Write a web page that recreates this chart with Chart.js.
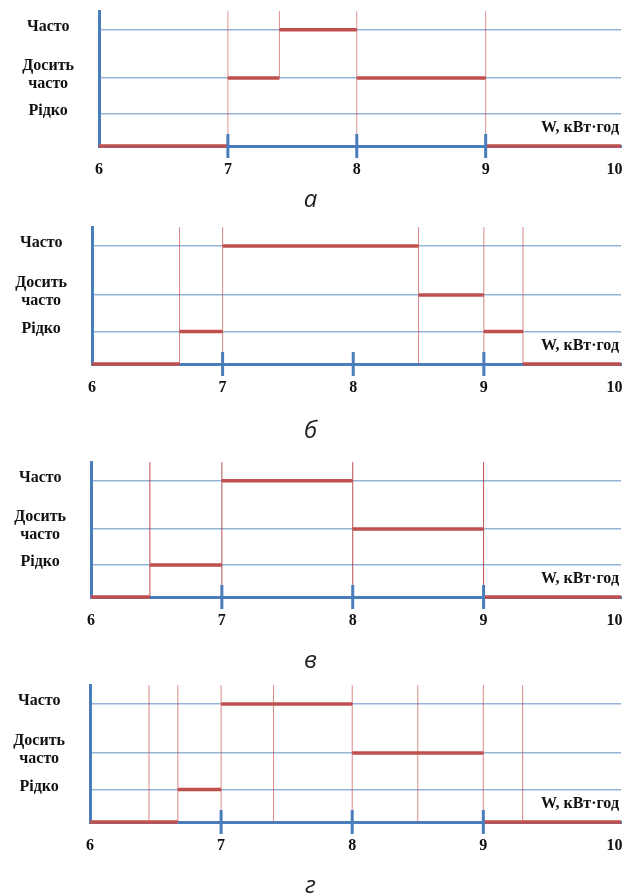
<!DOCTYPE html>
<html>
<head>
<meta charset="utf-8">
<script src="https://cdn.jsdelivr.net/npm/chart.js"></script>
<style>
    html, body { margin: 0; padding: 0; background: #fff; overflow: hidden; }
    body { width: 625px; height: 896px; position: relative; }
    canvas { position: absolute; left: 0; }
</style>
</head>
<body>
<canvas id="chart-a" width="625" height="215" style="top:2px"></canvas>
<canvas id="chart-b" width="625" height="230" style="top:218px"></canvas>
<canvas id="chart-c" width="625" height="225" style="top:453px"></canvas>
<canvas id="chart-d" width="625" height="227" style="top:676px"></canvas>
<script>
// axis values
const xTicks = [6, 7, 8, 9, 10];
const levelNames = ['Рідко', 'Досить часто', 'Часто'];
const levelValues = [1, 2.12, 3.62];
const unitLabel = 'W, кВт·год';
const tickMarks = [7, 8, 9];

// а
const edgesA = [6, 7, 7.4, 8, 9, 10];
const stepsA = [null, 'Досить часто', 'Часто', 'Досить часто', null];
const linesA = [7, 7.4, 8, 9];
const lineFromA = [null, 'Досить часто', null, null];

// б
const edgesB = [6, 6.67, 7, 8.5, 9, 9.3, 10];
const stepsB = [null, 'Рідко', 'Часто', 'Досить часто', 'Рідко', null];
const linesB = [6.67, 7, 8.5, 9, 9.3];

// в
const edgesC = [6, 6.45, 7, 8, 9, 10];
const stepsC = [null, 'Рідко', 'Часто', 'Досить часто', null];
const linesC = [6.45, 7, 8, 9];

// г
const edgesD = [6, 6.67, 7, 8, 9, 10];
const stepsD = [null, 'Рідко', 'Часто', 'Досить часто', null];
const linesD = [6.45, 6.67, 7, 7.4, 8, 8.5, 9, 9.3];

const xMax = 10.05;
const yMax = 4.2;
const blue = '#4a7ebb';
const red = '#c0504d';

const levelY = (name) => name ? levelValues[levelNames.indexOf(name)] : 0;

const stepPoints = (edges, steps) => {
    const pts = [];
    steps.forEach((s, i) => {
        const x1 = i + 1 === steps.length ? xMax : edges[i + 1];
        pts.push({x: edges[i], y: levelY(s)}, {x: x1, y: levelY(s)}, {x: x1, y: null});
    });
    return pts;
};

const verticalPoints = (lines, from) => {
    const pts = [];
    lines.forEach((x, i) => {
        pts.push({x: x, y: levelY(from ? from[i] : null)}, {x: x, y: yMax}, {x: x, y: null});
    });
    return pts;
};

const tickPoints = () => {
    const pts = [];
    tickMarks.forEach(x => pts.push({x: x, y: -0.37}, {x: x, y: 0.37}, {x: x, y: null}));
    return pts;
};

const unitLabelPlugin = {
    id: 'unitLabel',
    afterDatasetsDraw(chart) {
        const {ctx, chartArea} = chart;
        ctx.save();
        ctx.font = 'bold 16px "Liberation Serif"';
        ctx.fillStyle = '#111';
        ctx.textAlign = 'right';
        ctx.textBaseline = 'middle';
        ctx.fillText(unitLabel, chartArea.right - 2, chartArea.bottom - 18);
        ctx.restore();
    }
};

const panels = [
    {id: 'chart-a', caption: 'а', edges: edgesA, steps: stepsA, lines: linesA, from: lineFromA, left: 99, capPad: 7, lineColor: 'rgba(200,70,70,0.6)'},
    {id: 'chart-b', caption: 'б', edges: edgesB, steps: stepsB, lines: linesB, left: 92, capPad: 20, lineColor: 'rgba(200,70,70,0.65)'},
    {id: 'chart-c', caption: 'в', edges: edgesC, steps: stepsC, lines: linesC, left: 91, capPad: 17, lineColor: 'rgba(170,50,50,0.85)'},
    {id: 'chart-d', caption: 'г', edges: edgesD, steps: stepsD, lines: linesD, left: 90, capPad: 17, lineColor: 'rgba(200,70,70,0.65)'}
];

panels.forEach(p => {
    const ctx = document.getElementById(p.id).getContext('2d');
    new Chart(ctx, {
        type: 'line',
        data: {
            datasets: [
                {data: tickPoints(), borderColor: blue, borderWidth: 3, clip: false},
                {data: stepPoints(p.edges, p.steps), borderColor: red, borderWidth: 3.5, clip: false},
                {data: verticalPoints(p.lines, p.from), borderColor: p.lineColor, borderWidth: 1, clip: false}
            ]
        },
        options: {
            responsive: false,
            animation: false,
            devicePixelRatio: 1,
            spanGaps: false,
            elements: {
                point: {radius: 0, hoverRadius: 0},
                line: {tension: 0, borderCapStyle: 'butt'}
            },
            layout: {padding: {top: 0, right: 4, left: 0, bottom: 0}},
            plugins: {
                legend: {display: false},
                tooltip: {enabled: false},
                title: {
                    display: true,
                    text: p.caption,
                    position: 'bottom',
                    color: '#222',
                    font: {family: '"Open Sans"', style: 'italic', weight: 'normal', size: 24},
                    padding: {top: p.capPad, bottom: 2}
                }
            },
            scales: {
                x: {
                    type: 'linear',
                    min: 6,
                    max: xMax,
                    afterBuildTicks: (axis) => { axis.ticks = xTicks.map(v => ({value: v})); },
                    grid: {display: true, drawOnChartArea: false, drawTicks: true, tickLength: 14, tickColor: 'rgba(0,0,0,0)'},
                    border: {color: blue, width: 3},
                    ticks: {
                        color: '#111',
                        padding: 0,
                        autoSkip: false,
                        maxRotation: 0,
                        font: {family: '"Liberation Serif"', weight: 'bold', size: 16}
                    }
                },
                y: {
                    type: 'linear',
                    min: 0,
                    max: yMax,
                    afterBuildTicks: (axis) => { axis.ticks = levelValues.map(v => ({value: v})); },
                    afterFit: (axis) => { axis.width = p.left; },
                    grid: {color: '#95b3d7', lineWidth: 1.5, drawTicks: true, tickLength: 25, tickColor: 'rgba(0,0,0,0)'},
                    border: {color: blue, width: 3},
                    ticks: {
                        color: '#111',
                        padding: 0,
                        crossAlign: 'center',
                        labelOffset: -3,
                        font: {family: '"Liberation Serif"', weight: 'bold', size: 16, lineHeight: 1.15},
                        callback: (v) => {
                            const name = levelNames[levelValues.indexOf(v)];
                            return name.includes(' ') ? name.split(' ') : name;
                        }
                    }
                }
            }
        },
        plugins: [unitLabelPlugin]
    });
});
</script>
</body>
</html>
